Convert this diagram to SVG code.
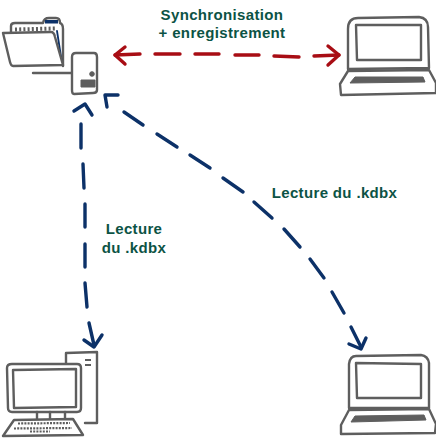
<svg xmlns="http://www.w3.org/2000/svg" width="436" height="438" viewBox="0 0 436 438">
<style>
.k{fill:none;stroke:#5e5e5e;stroke-width:2.400;stroke-linecap:round;stroke-linejoin:round}
.w{fill:#fff}
.d{fill:#5e5e5e;stroke:#5e5e5e;stroke-width:1;stroke-linejoin:round}
.r{fill:none;stroke:#a80d14;stroke-width:3.400;stroke-linecap:round;stroke-linejoin:round}
.b{fill:none;stroke:#0c3168;stroke-width:3.400;stroke-linecap:round;stroke-linejoin:round}
text{font-family:"Liberation Sans",Arial,sans-serif;font-size:15px;font-weight:bold;letter-spacing:.35px;fill:#0c5345;text-anchor:middle}
</style>
<rect width="436" height="438" fill="#fff"/>
<g id="folder">
<path class="k" d="M11 34 L11 26 Q11 23 15 23 L43 23 Q44 18 49 18 L56 18 Q60 18 60 23 Q63 24 63 29 L63 66"/>
<path d="M45 20 L58 20 L58 23.500 L45 23.500Z" fill="#0c3168"/>
<path d="M15 29.500 L55 28.500" stroke="#5e5e5e" stroke-width="4" stroke-dasharray="2 2.200" fill="none"/>
<path d="M57 31 L62 63" stroke="#0c3168" stroke-width="1.800" fill="none" stroke-linecap="round"/>
<path class="k w" d="M3 33 L51 32 Q54 32 55 37 L63 65 L13 66 Q11 66 10 62Z"/>
</g>
<g id="server">
<path class="k w" d="M72 57 Q72 53 76 53 L94 53 Q97 53 97 57 L97 90 Q97 93 93 93 L74 94 Q72 94 72 90Z"/>
<path class="k" d="M33 73 L71 73"/>
<rect class="d" x="81" y="80" width="14" height="7"/>
<circle class="d" cx="92" cy="74" r="2.300"/>
</g>
<g id="laptop-top">
<path class="k" d="M348 29 Q348 18 358 18 L419 17 Q428 18 428 27 L429 68 L348 69Z"/>
<path class="k" d="M356 25 L421 25 L421 60 L357 60Z"/>
<path class="k" d="M348 71 L429 70 L436 83 L436 93 L341 95 L340 84Z"/>
<path class="d" d="M350 83 L355 77 L423 77 L425 82Z"/>
</g>
<g id="laptop-bottom">
<path class="k" d="M349 364 Q350 356 356 356 L421 355 Q428 356 429 363 L429 408 L349 408Z"/>
<path class="k" d="M356 363 L421 364 L421 398 L357 398Z"/>
<path class="k" d="M349 410 L429 409 L436 424 L435 433 L341 434 L341 425Z"/>
<path class="d" d="M351 422 L355 416 L424 415 L426 420Z"/>
</g>
<g id="desktop">
<path class="k" d="M66 363 L66 353 L97 352 L97 423 L85 423"/>
<path class="k w" d="M7 368 Q7 364 12 364 L77 364 Q81 364 81 368 L81 408 Q81 412 77 412 L12 412 Q8 412 8 408Z"/>
<path class="k" d="M13 370 L76 369 L76 407 L14 408Z"/>
<path class="k" d="M37 412 L37 420 M50 412 L50 420 M65 412 L65 420"/>
<path class="k w" d="M14 420 L73 419 L83 435 L3 436Z"/>
<path d="M18 423.500 L70 423 M14 428.500 L72 428 M30 431.500 L50 431.500" stroke="#5e5e5e" stroke-width="2.200" stroke-dasharray="2 1.200" fill="none"/>
<path d="M85 360 L91 360 M85 365 L91 365" stroke="#5e5e5e" stroke-width="2" fill="none"/>
</g>
<g id="connectors">
<path class="r" d="M115 55 L140 54 M155 54 L180 54 M195 54 L219 54 M235 55 L259 55 M274 56 L299 57 M314 56 L339 55"/>
<path class="r" d="M125 47 L115 55 L125 64 M328 46 L339 55 L328 65"/>
<path class="b" d="M81 124 L81 148 M83 164 L84 188 M85 204 L85 227 M85 244 L85 267 M85 283 L87 307 M89 323 L94 345"/>
<path class="b" d="M74 111 L85 104 L92 115 M84 340 L94 347 L102 335"/>
<path class="b" d="M124 112 L143 125 M157 134 L177 147 M190 155 L210 168 M223 178 L243 192 M254 202 L272 218 M284 229 L300 247 M310 259 L324 278 M332 292 L344 313 M351 327 L361 347"/>
<path class="b" d="M118 95 L105 95 L107 107"/>
<path class="b" d="M349 344 L361 349 L366 338"/>
</g>
<g id="labels">
<text x="222" y="20">Synchronisation</text>
<text x="222" y="38">+ enregistrement</text>
<text x="134" y="234">Lecture</text>
<text x="134" y="253">du .kdbx</text>
<text x="334.500" y="198">Lecture du .kdbx</text>
</g>
</svg>
